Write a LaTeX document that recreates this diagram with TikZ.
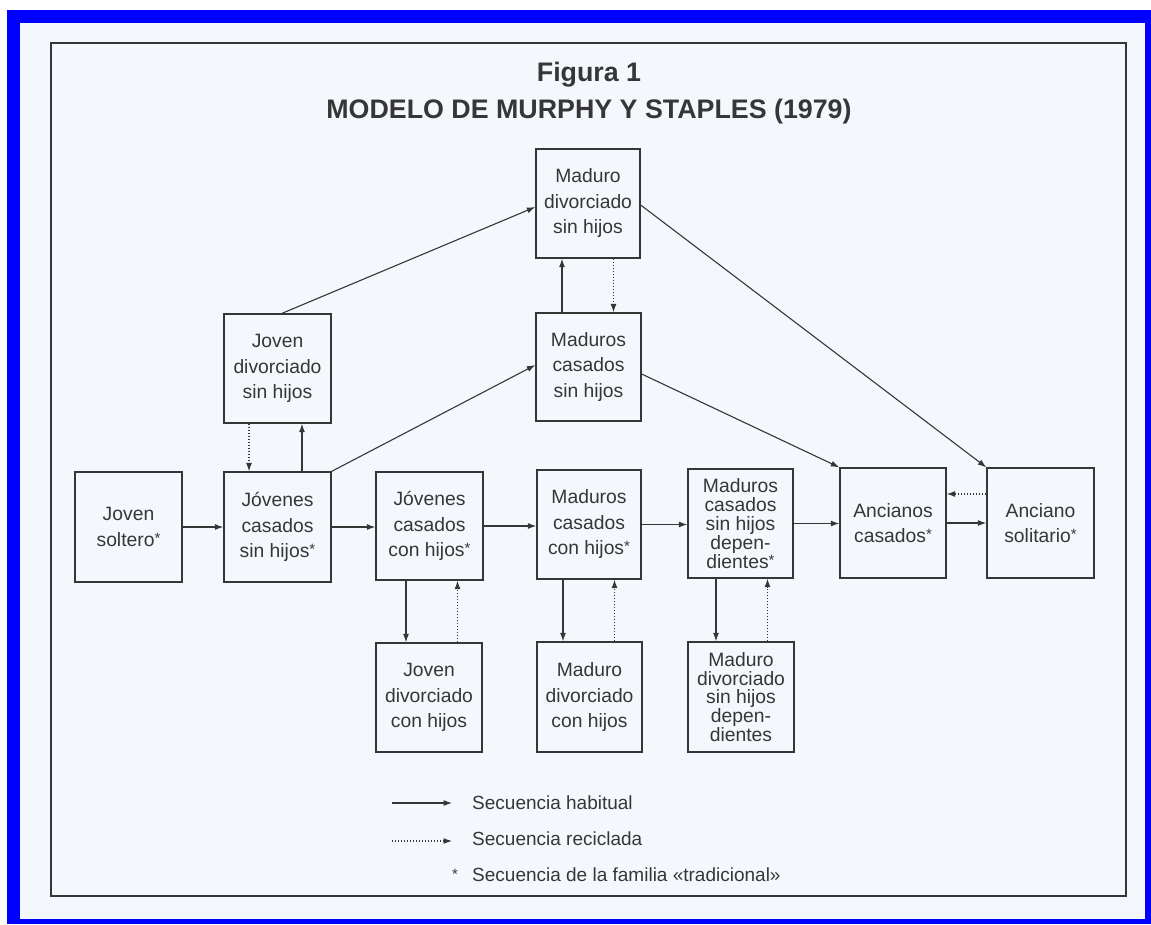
\documentclass[tikz,border=0pt]{standalone}
\usepackage{fontspec}
\setmainfont{Liberation Sans}
\usetikzlibrary{arrows.meta,calc}
\definecolor{paper}{HTML}{F4F8FC}
\definecolor{ink}{HTML}{363636}
\definecolor{frameblue}{RGB}{0,0,255}
\newcommand\tstar{\raisebox{3pt}{\fontsize{15}{15}\selectfont *}}
\tikzset{
  box/.style={draw=ink, line width=1.3pt, rectangle, inner sep=0pt, align=center,
    text=ink, font=\fontsize{19.3}{25.5}\selectfont},
  tightbox/.style={box, font=\fontsize{19.3}{18.8}\selectfont},
  hab/.style={draw=ink, line width=1.1pt, -{Latex[length=8.5pt,width=6pt]}},
  rec/.style={draw=ink, line width=1.1pt, dash pattern=on 1.2pt off 1.8pt, -{Latex[length=8.5pt,width=6pt]}},
  titletext/.style={text=ink, inner sep=0pt, font=\bfseries\fontsize{26.8}{30}\selectfont},
  legtext/.style={text=ink, inner sep=0pt, font=\fontsize{19}{22}\selectfont}
}
\begin{document}
\begin{tikzpicture}[x=1pt,y=-1pt]
\useasboundingbox (0,0) rectangle (1151,924);
\fill[white] (0,0) rectangle (1151,924);
\fill[frameblue] (7,10) rectangle (1151,924);
\fill[paper] (20,23) rectangle (1145,919);
\draw[ink, line width=1.5pt] (51,43) rectangle (1126,896);

% title
\node[titletext, anchor=base] (fig) at (589,81) {Figura 1};
\node[titletext, anchor=base] (tit) at (589,118) {MODELO DE MURPHY Y STAPLES (1979)};

% boxes
\node[box, minimum width=107, minimum height=110] (sol) at (128.5,527) {Joven\\soltero\tstar};
\node[box, minimum width=107, minimum height=110] (jcsh) at (277.5,527) {Jóvenes\\casados\\sin hijos\tstar};
\node[box, minimum width=107, minimum height=109] (jdsh) at (277.5,368.5) {Joven\\divorciado\\sin hijos};
\node[box, minimum width=107, minimum height=108] (jcch) at (429.5,526) {Jóvenes\\casados\\con hijos\tstar};
\node[box, minimum width=104, minimum height=109] (mcch) at (589,524.5) {Maduros\\casados\\con hijos\tstar};
\node[tightbox, minimum width=105, minimum height=109] (mcshd) at (740.5,523.5) {Maduros\\casados\\sin hijos\\depen-\\dientes\tstar};
\node[box, minimum width=106, minimum height=110] (ac) at (893,523) {Ancianos\\casados\tstar};
\node[box, minimum width=107, minimum height=110] (as) at (1040.5,523) {Anciano\\solitario\tstar};
\node[box, minimum width=104, minimum height=109] (mdsh) at (588,203.5) {Maduro\\divorciado\\sin hijos};
\node[box, minimum width=105, minimum height=108] (mcsh) at (588.5,367) {Maduros\\casados\\sin hijos};
\node[box, minimum width=106, minimum height=109] (jdch) at (429,697.5) {Joven\\divorciado\\con hijos};
\node[box, minimum width=105, minimum height=110] (mdch) at (589.5,697) {Maduro\\divorciado\\con hijos};
\node[tightbox, minimum width=106, minimum height=110] (mdshd) at (741,697) {Maduro\\divorciado\\sin hijos\\depen-\\dientes};

% horizontal sequence
\draw[hab] (sol.east) -- (sol.east -| jcsh.west);
\draw[hab] (jcsh.east) -- (jcsh.east -| jcch.west);
\draw[hab] (jcch.east) -- (jcch.east -| mcch.west);
\draw[hab] (mcch.east) -- (mcch.east -| mcshd.west);
\draw[hab] (mcshd.east) -- (mcshd.east -| ac.west);
\draw[hab] (ac.east) -- (ac.east -| as.west);
\draw[rec] ([yshift=29pt]as.west) -- ([yshift=29pt]as.west -| ac.east);

% vertical pairs
\draw[hab] ([xshift=24.5pt]jcsh.north) -- ([xshift=24.5pt]jcsh.north |- jdsh.south);
\draw[rec] ([xshift=-28.5pt]jdsh.south) -- ([xshift=-28.5pt]jdsh.south |- jcsh.north);
\draw[hab] ([xshift=-26.5pt]mcsh.north) -- ([xshift=-26.5pt]mcsh.north |- mdsh.south);
\draw[rec] ([xshift=25.5pt]mdsh.south) -- ([xshift=25.5pt]mdsh.south |- mcsh.north);
\draw[hab] ([xshift=-23.5pt]jcch.south) -- ([xshift=-23.5pt]jcch.south |- jdch.north);
\draw[rec] ([xshift=28.5pt]jdch.north) -- ([xshift=28.5pt]jdch.north |- jcch.south);
\draw[hab] ([xshift=-26pt]mcch.south) -- ([xshift=-26pt]mcch.south |- mdch.north);
\draw[rec] ([xshift=25pt]mdch.north) -- ([xshift=25pt]mdch.north |- mcch.south);
\draw[hab] ([xshift=-24.5pt]mcshd.south) -- ([xshift=-24.5pt]mcshd.south |- mdshd.north);
\draw[rec] ([xshift=26.5pt]mdshd.north) -- ([xshift=26.5pt]mdshd.north |- mcshd.south);

% diagonals
\draw[hab] (jcsh.north east) -- ([yshift=2pt]mcsh.west);
\draw[hab] ([xshift=4.5pt]jdsh.north) -- ([yshift=-3.5pt]mdsh.west);
\draw[hab] ([yshift=-1.5pt]mdsh.east) -- (as.north west);
\draw[hab] ([yshift=-7pt]mcsh.east) -- (ac.north west);

% legend
\coordinate (l1a) at (392,803);
\coordinate (l1b) at (452,803);
\coordinate (l2a) at (392,841);
\coordinate (l2b) at (452,841);
\draw[hab] (l1a) -- (l1b);
\draw[rec] (l2a) -- (l2b);
\node[legtext, anchor=base west] (t1) at (472,809) {Secuencia habitual};
\node[legtext, anchor=base west] (t2) at (472,845) {Secuencia reciclada};
\node[legtext, anchor=base west] (t3) at (472,881) {Secuencia de la familia «tradicional»};
\node[legtext, anchor=base] (st) at (455,879) {\fontsize{15}{15}\selectfont *};
\end{tikzpicture}
\end{document}
